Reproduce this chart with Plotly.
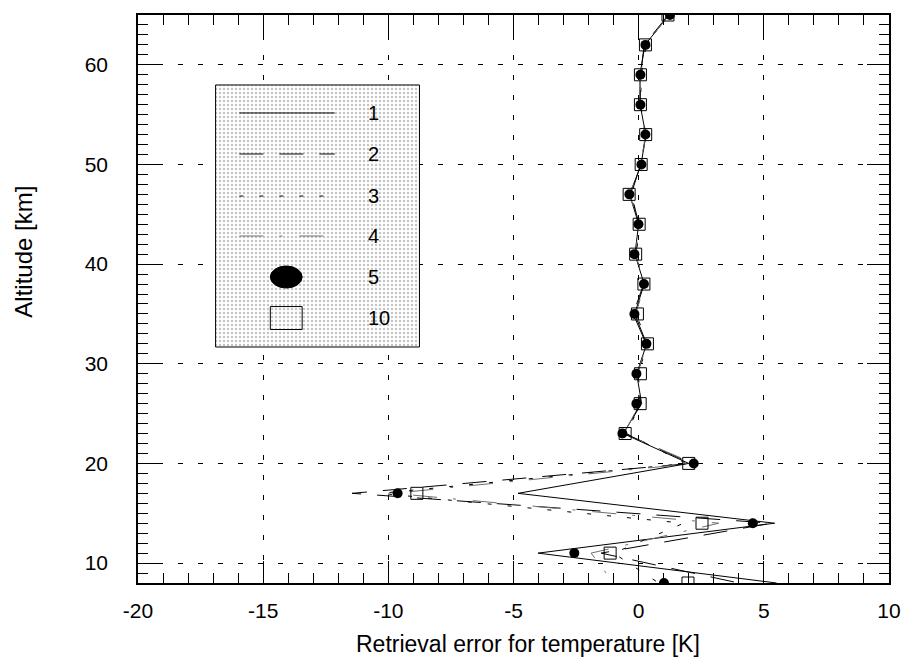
import plotly.graph_objects as go

# Altitude grid of the retrieval [km]
altitude = [65, 62, 59, 56, 53, 50, 47, 44, 41, 38, 35, 32, 29, 26, 23, 20, 17, 14, 11, 8]

# Retrieval error for temperature [K], one list per case
err_1 = [1.22, 0.25, 0.05, 0.06, 0.28, 0.10, -0.36, 0.00, -0.15, 0.22, -0.16, 0.32, -0.08, 0.12, -0.62, 2.0, -4.82, 5.43, -4.02, 5.51]
err_2 = [1.18, 0.22, 0.08, 0.05, 0.30, 0.08, -0.30, 0.02, -0.12, 0.20, -0.22, 0.30, -0.04, 0.06, -0.55, 2.1, -11.45, 5.3, -1.5, 4.0]
err_3 = [1.15, 0.30, 0.10, 0.08, 0.25, 0.12, -0.33, 0.05, -0.10, 0.18, -0.10, 0.36, -0.02, 0.08, -0.50, 1.9, -10.3, 1.8, -1.0, 0.8]
err_4 = [1.20, 0.28, 0.06, 0.10, 0.26, 0.14, -0.38, 0.03, -0.14, 0.24, -0.12, 0.34, -0.06, 0.04, -0.58, 2.2, -9.8, 3.2, -1.9, -1.0]
err_5 = [1.25, 0.27, 0.07, 0.07, 0.27, 0.11, -0.37, -0.01, -0.17, 0.21, -0.17, 0.31, -0.09, -0.09, -0.65, 2.20, -9.63, 4.56, -2.57, 1.01]
err_10 = [1.17, 0.27, 0.07, 0.07, 0.28, 0.10, -0.38, 0.02, -0.12, 0.21, -0.05, 0.35, 0.07, 0.06, -0.54, 2.0, -8.86, 2.53, -1.14, 1.97]

legend_labels = ["1", "2", "3", "4", "5", "10"]
x_ticks = [-20, -15, -10, -5, 0, 5, 10]
y_ticks = [10, 20, 30, 40, 50, 60]
x_range = [-20, 10]
y_range = [8, 65]

FONT = "Liberation Sans, Arial, sans-serif"

dash_2 = "24px,16px"
dash_3 = "4px,16px"
dash_4 = "24px,16px,3px,17px"
gray = "#6e6e6e"


def frac_x(f):
    return x_range[0] + f * (x_range[1] - x_range[0])


def frac_y(f):
    return y_range[0] + f * (y_range[1] - y_range[0])


fig = go.Figure()

# Stippled key panel, placed by fractions of the plot area
box_x0, box_x1, box_y0, box_y1 = 0.1033, 0.3748, 0.4155, 0.8768
fig.add_trace(go.Scatter(
    x=[frac_x(box_x0), frac_x(box_x1), frac_x(box_x1), frac_x(box_x0), frac_x(box_x0)],
    y=[frac_y(box_y0), frac_y(box_y0), frac_y(box_y1), frac_y(box_y1), frac_y(box_y0)],
    mode="lines", fill="toself", fillcolor="white",
    fillpattern=dict(shape=".", fgcolor="#8a8a8a", bgcolor="white", size=4, solidity=0.3),
    line=dict(color="black", width=1),
    showlegend=False, hoverinfo="skip",
))

line_styles = [
    (err_1, "black", "solid"),
    (err_2, "black", dash_2),
    (err_3, "black", dash_3),
    (err_4, gray, dash_4),
]
for vals, col, dash in line_styles:
    fig.add_trace(go.Scatter(
        x=vals, y=altitude, mode="lines",
        line=dict(color=col, width=1, dash=dash),
        showlegend=False, hoverinfo="skip",
    ))

fig.add_trace(go.Scatter(
    x=err_10, y=altitude, mode="markers",
    marker=dict(symbol="square-open", size=12, color="black", line=dict(width=1)),
    showlegend=False,
))
fig.add_trace(go.Scatter(
    x=err_5, y=altitude, mode="markers",
    marker=dict(symbol="circle", size=10, color="black", line=dict(width=0)),
    showlegend=False,
))

shapes = []
key_rows = [0.8275, 0.7553, 0.6813, 0.6109, 0.5387, 0.4665]
key_x0, key_x1 = 0.135, 0.262
for row, (col, dash) in zip(key_rows[:4], [("black", "solid"), ("black", dash_2), ("black", dash_3), (gray, dash_4)]):
    shapes.append(dict(type="line", xref="paper", yref="paper",
                       x0=key_x0, x1=key_x1, y0=row, y1=row,
                       line=dict(color=col, width=1, dash=dash), layer="above"))
cx = 0.1974
shapes.append(dict(type="circle", xref="paper", yref="paper",
                   x0=cx - 0.0212, x1=cx + 0.0212, y0=key_rows[4] - 0.0194, y1=key_rows[4] + 0.0194,
                   fillcolor="black", line=dict(color="black", width=1), layer="above"))
shapes.append(dict(type="rect", xref="paper", yref="paper",
                   x0=cx - 0.0212, x1=cx + 0.0212, y0=key_rows[5] - 0.0202, y1=key_rows[5] + 0.0202,
                   fillcolor="rgba(0,0,0,0)", line=dict(color="black", width=1), layer="above"))

annotations = []
for row, lab in zip(key_rows, legend_labels):
    annotations.append(dict(text=lab, x=0.3033, y=row, xref="paper", yref="paper",
                            xanchor="left", yanchor="middle", showarrow=False,
                            font=dict(family=FONT, size=20, color="black")))

annotations.append(dict(text="Retrieval error for temperature [K]", x=0.519, y=-0.108,
                        xref="paper", yref="paper", xanchor="center", yanchor="middle",
                        showarrow=False, font=dict(family=FONT, size=23, color="black")))
annotations.append(dict(text="Altitude [km]", x=-0.152, y=0.583, textangle=-90,
                        xref="paper", yref="paper", xanchor="center", yanchor="middle",
                        showarrow=False, font=dict(family=FONT, size=24, color="black")))

axis_common = dict(
    showline=True, linecolor="black", linewidth=1.5, mirror="ticks",
    ticks="inside", ticklen=22, tickwidth=1, tickcolor="black",
    showgrid=True, gridcolor="black", gridwidth=1, griddash="5px,15px",
    zeroline=False,
    minor=dict(dtick=1, tick0=0, ticks="inside", ticklen=10, tickwidth=1,
               tickcolor="black", showgrid=False),
)

fig.update_layout(
    width=913, height=668,
    margin=dict(l=138, r=20, t=15, b=85),
    plot_bgcolor="white", paper_bgcolor="white",
    shapes=shapes, annotations=annotations,
    xaxis=dict(range=x_range, tickmode="array", tickvals=x_ticks,
               ticktext=[str(v) for v in x_ticks],
               tickfont=dict(family=FONT, size=21, color="black"),
               ticklabelstandoff=8, **axis_common),
    yaxis=dict(range=y_range, tickmode="array", tickvals=y_ticks,
               ticktext=[str(v) for v in y_ticks],
               tickfont=dict(family=FONT, size=21, color="black"),
               ticklabelstandoff=24, **axis_common),
    showlegend=False,
)

fig.write_html("out.html")
